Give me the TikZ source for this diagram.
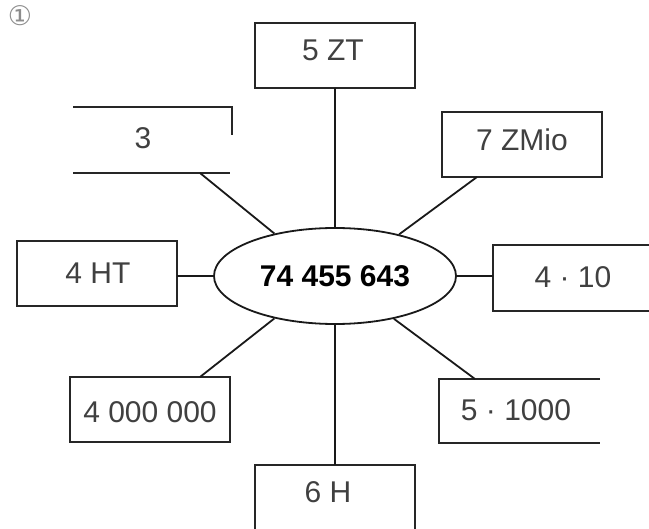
\documentclass[tikz,border=0pt]{standalone}
\usepackage{fontspec}
\setmainfont{Liberation Sans}
\newfontfamily\dejavu{DejaVu Sans}
\usetikzlibrary{shapes.geometric}
\begin{document}
\begin{tikzpicture}[x=1pt,y=-1pt,
  boxn/.style={draw=black!85, line width=2.6pt, rectangle, inner sep=0pt, outer sep=0pt, minimum width=160pt, minimum height=65pt},
  box/.style={draw=black!85, line width=2.6pt},
  conn/.style={draw=black!90, line width=1.8pt},
  lbl/.style={font=\fontsize{30}{30}\selectfont, text=black!75, inner sep=0pt}]
\useasboundingbox (0,0) rectangle (649,529);
\clip (0,0) rectangle (649,529);
% circled number
\node[font=\dejavu\fontsize{27}{27}\selectfont, text=black!45, inner sep=0pt] (num) at (20,16) {①};
% full boxes
\node[boxn] (zt) at (335,55.5) {};
\node[boxn] (zmio) at (522,144.5) {};
\node[boxn] (ht) at (97,273.5) {};
\node[boxn] (mil) at (150,409.5) {};
\node[boxn, minimum height=90pt] (h) at (335,510) {};
% partial boxes
\draw[box] (73,107) -- (232,107) -- (232,135);
\draw[box] (73,173) -- (230,173);
\draw[box] (660,245) -- (493,245) -- (493,311) -- (660,311);
\draw[box] (600,379) -- (439,379) -- (439,443) -- (600,443);
\coordinate (b3) at (200,173);
\coordinate (bz) at (477,177);
\coordinate (t10) at (493,276);
\coordinate (bm) at (200,377);
\coordinate (bt) at (475,379);
% labels
\node[lbl] (tzt) at (333,50) {5 ZT};
\node[lbl] (t3) at (143,138) {3};
\node[lbl] (tzm) at (522,140) {7 ZMio};
\node[lbl] (tht) at (98,273) {4 HT};
\node[lbl] (tten) at (573,277) {4 · 10};
\node[lbl] (tmil) at (150,412) {4 000 000};
\node[lbl] (tthou) at (516,410) {5 · 1000};
\node[lbl] (th) at (328,492) {6 H};
% centre ellipse
\node[draw=black!90, line width=1.8pt, ellipse, inner sep=0pt, minimum width=242pt, minimum height=96pt,
  font=\bfseries\fontsize{30}{30}\selectfont] (ell) at (335,276) {74 455 643};
% connectors
\draw[conn] (zt.south) -- (ell.north);
\draw[conn] (ell.south) -- (h.north);
\draw[conn] (b3) -- (ell.145);
\draw[conn] (bz) -- (ell.33);
\draw[conn] (ell.west) -- (ell.west -| ht.east);
\draw[conn] (ell.east) -- (ell.east -| t10);
\draw[conn] (bm) -- (ell.215);
\draw[conn] (bt) -- (ell.324);
\end{tikzpicture}
\end{document}
